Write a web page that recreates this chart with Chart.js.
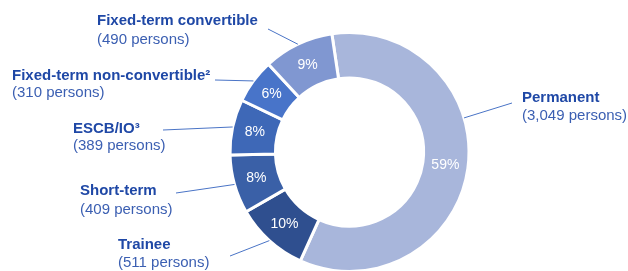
<!DOCTYPE html>
<html lang="en">
<head>
  <meta charset="UTF-8" />
  <title>Staff by contract type</title>
  <script src="https://cdn.jsdelivr.net/npm/chart.js"></script>
  <style>
    body {
      margin: 0;
      background: #ffffff;
      overflow: hidden;
    }
    #wrap {
      position: relative;
      width: 628px;
      height: 290px;
    }
  </style>
</head>
<body>
  <div id="wrap"><canvas id="donut"></canvas></div>

  <script>
    // data, clockwise from the top
    const categories = ['Permanent', 'Trainee', 'Short-term', 'ESCB/IO\u00b3', 'Fixed-term non-convertible\u00b2', 'Fixed-term convertible'];
    const persons = [3049, 511, 409, 389, 310, 490];
    const sliceColors = ['#a8b6db', '#2f4f8f', '#3a60a7', '#3e68b7', '#4874c9', '#8097d1'];

    // where each outside label sits and where its leader line stops
    const labelLayout = [
      { x: 522, nameY: 98, subY: 116, lineX: 512, lineY: 103, at: 0.385 },
      { x: 118, nameY: 245, subY: 263, lineX: 230, lineY: 256, at: 0.5 },
      { x: 80, nameY: 191, subY: 210, lineX: 176, lineY: 193, at: 0.5 },
      { x: 73, nameY: 129, subY: 146, lineX: 163, lineY: 130, at: 0.5 },
      { x: 12, nameY: 76, subY: 93, lineX: 215, lineY: 80, at: 0.5 },
      { x: 97, nameY: 21, subY: 40, lineX: 268, lineY: 29, at: 0.5 }
    ];

    const total = persons.reduce((a, b) => a + b, 0);

    const labelPlugin = {
      id: 'outsideLabels',
      afterDatasetsDraw(chart) {
        const ctx = chart.ctx;
        const arcs = chart.getDatasetMeta(0).data;
        ctx.save();
        arcs.forEach((arc, i) => {
          const p = arc.getProps(['x', 'y', 'startAngle', 'endAngle', 'innerRadius', 'outerRadius']);
          const mid = (p.startAngle + p.endAngle) / 2;
          const r = (p.innerRadius + p.outerRadius) / 2;

          // percentage inside the slice
          ctx.fillStyle = '#ffffff';
          ctx.font = '14px "Liberation Sans", Arial, sans-serif';
          ctx.textAlign = 'center';
          ctx.textBaseline = 'middle';
          ctx.fillText(Math.round(persons[i] / total * 100) + '%', p.x + Math.cos(mid) * r, p.y + Math.sin(mid) * r);

          // leader line
          const L = labelLayout[i];
          const a = p.startAngle + (p.endAngle - p.startAngle) * L.at;
          ctx.strokeStyle = '#4a74c6';
          ctx.lineWidth = 1;
          ctx.beginPath();
          ctx.moveTo(p.x + Math.cos(a) * p.outerRadius, p.y + Math.sin(a) * p.outerRadius);
          ctx.lineTo(L.lineX, L.lineY);
          ctx.stroke();

          // label text
          ctx.textAlign = 'left';
          ctx.fillStyle = '#1f48a6';
          ctx.font = 'bold 15px "Liberation Sans", Arial, sans-serif';
          ctx.fillText(categories[i], L.x, L.nameY);
          ctx.fillStyle = '#3b5fb2';
          ctx.font = '15px "Liberation Sans", Arial, sans-serif';
          ctx.fillText('(' + persons[i].toLocaleString('en-US') + ' persons)', L.x, L.subY);
        });
        ctx.restore();
      }
    };

    new Chart(document.getElementById('donut'), {
      type: 'doughnut',
      data: {
        labels: categories,
        datasets: [{
          data: persons,
          backgroundColor: sliceColors,
          borderColor: '#ffffff',
          borderWidth: 3
        }]
      },
      options: {
        responsive: true,
        maintainAspectRatio: false,
        animation: false,
        rotation: -8.5,
        cutout: '62%',
        layout: { padding: { left: 228.5, right: 157.5, top: 31, bottom: 17 } },
        plugins: {
          legend: { display: false },
          tooltip: { enabled: false }
        }
      },
      plugins: [labelPlugin]
    });
  </script>
</body>
</html>
